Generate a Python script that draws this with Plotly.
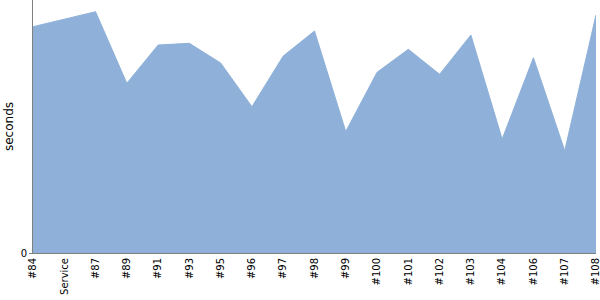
import plotly.graph_objects as go

categories = ["#84", "Service", "#87", "#89", "#91", "#93", "#95", "#96", "#97", "#98",
              "#99", "#100", "#101", "#102", "#103", "#104", "#106", "#107", "#108"]
seconds = [226.3, 234, 241.3, 169.7, 208, 209.7, 190, 146.3, 197, 222,
           121.5, 180.7, 203.7, 178.7, 218, 114, 195.3, 102.3, 238]

fig = go.Figure()
fig.add_trace(go.Scatter(
    x=categories, y=seconds, mode="lines", fill="tozeroy",
    line=dict(color="rgb(143,177,217)", width=1),
    fillcolor="rgb(143,177,217)", hoverinfo="skip", showlegend=False,
))

fig.update_layout(
    width=600, height=300,
    margin=dict(l=33, r=4, t=0, b=47),
    paper_bgcolor="white", plot_bgcolor="white",
    font=dict(family="DejaVu Sans", size=10, color="black"),
    xaxis=dict(
        type="category", range=[0, len(categories) - 1],
        tickangle=-90, showgrid=False, zeroline=False,
        showline=True, linecolor="#808080", linewidth=1,
        ticks="", tickfont=dict(size=10, color="black"),
        automargin=False,
    ),
    yaxis=dict(
        range=[0, 253], showgrid=False, zeroline=False,
        showline=True, linecolor="#808080", linewidth=1,
        tickvals=[0], ticktext=["0"], ticks="outside", ticklen=3,
        tickcolor="#808080", tickfont=dict(size=10, color="black"),
        title=dict(text="seconds", font=dict(size=12, color="black"), standoff=4),
        automargin=False,
    ),
)

fig.write_html("out.html")
